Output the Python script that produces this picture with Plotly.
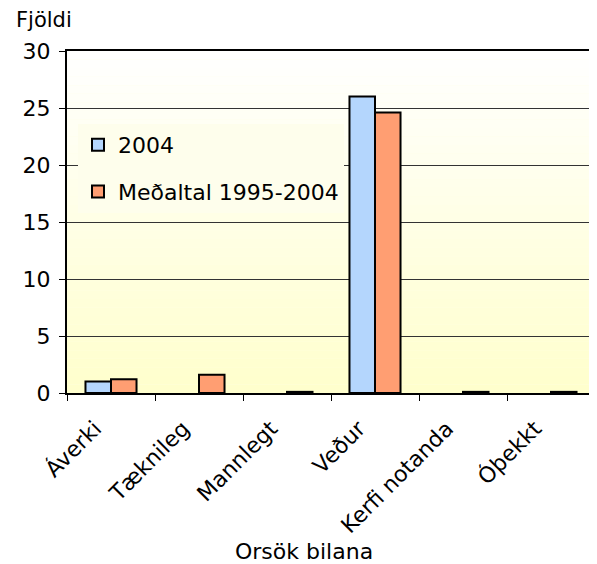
import plotly.graph_objects as go

CATEGORIES = ["Áverki", "Tæknileg", "Mannlegt", "Veður", "Kerfi notanda", "Óþekkt"]
VALUES_2004 = [1.0, 0.0, 0.0, 26.0, 0.0, 0.0]
VALUES_AVG = [1.2, 1.6, 0.1, 24.6, 0.1, 0.1]
SERIES_NAMES = ["2004", "Meðaltal 1995-2004"]
Y_TICKS = [0, 5, 10, 15, 20, 25, 30]

FONT = "DejaVu Sans, Verdana, sans-serif"
BLUE = "#B4D6FD"
ORANGE = "#FF9E72"

# the page body has an 8px margin, so the canvas is a bit smaller than the window
OFF = 8
W, H = 597 - OFF, 564 - OFF
L, R, T, B = 67 - OFF, 2, 51 - OFF, 171
PW, PH = W - L - R, H - T - B
Y0 = 51 + PH  # page y of the x axis


def px_x(x):
    return (x - 67) / PW


def px_y(y):
    return (Y0 - y) / PH


fig = go.Figure()

# zero bars get no outline (Excel draws nothing there)
fig.add_trace(go.Bar(
    x=CATEGORIES, y=VALUES_2004, name=SERIES_NAMES[0],
    marker=dict(color=BLUE, line=dict(color="black", width=[2 if v else 0 for v in VALUES_2004])),
    legendgroup="a",
))
fig.add_trace(go.Bar(
    x=CATEGORIES, y=VALUES_AVG, name=SERIES_NAMES[1],
    marker=dict(color=ORANGE, line=dict(color="black", width=[2 if v else 0 for v in VALUES_AVG])),
    legendgroup="b",
))

# vertical white -> pale yellow background, drawn as thin strips
n_strips = 40
for i in range(n_strips):
    t = (i + 0.5) / n_strips
    b = int(round(255 - (255 - 204) * t))
    fig.add_shape(
        type="rect", xref="x domain", yref="y domain",
        x0=0, x1=1, y0=1 - (i + 1) / n_strips, y1=1 - i / n_strips,
        fillcolor=f"rgb(255,255,{b})", line=dict(width=0), layer="below",
    )

fig.update_layout(
    width=W, height=H,
    barmode="group", bargap=0.42, bargroupgap=0,
    paper_bgcolor="white", plot_bgcolor="#FFFFE6",
    margin=dict(l=L, r=R, t=T, b=B, autoexpand=False),
    font=dict(family=FONT, size=22, color="black"),
    showlegend=True,
    legend=dict(
        x=px_x(78), y=px_y(124), xanchor="left", yanchor="top",
        bgcolor="#FEFEEC", borderwidth=0,
        font=dict(size=22, color="black"),
        tracegroupgap=15,
    ),
    annotations=[
        dict(text="Fjöldi", x=px_x(14), y=px_y(20), xref="paper", yref="paper",
             xanchor="left", yanchor="middle", showarrow=False, font=dict(size=21)),
        dict(text="Orsök bilana", x=px_x(304), y=px_y(551), xref="paper", yref="paper",
             xanchor="center", yanchor="middle", showarrow=False, font=dict(size=22)),
    ],
)

fig.update_xaxes(
    type="category", tickson="boundaries",
    ticks="outside", ticklen=6, tickcolor="black", tickwidth=1,
    tickangle=-45, ticklabelshift=-16, ticklabelstandoff=12,
    tickfont=dict(size=22, color="black"),
    showline=True, linecolor="black", linewidth=2, mirror=True,
    showgrid=False, zeroline=False, automargin=False,
)

fig.update_yaxes(
    range=[0, 30], tickvals=Y_TICKS, ticks="outside", ticklen=6, tickcolor="black",
    tickfont=dict(size=22, color="black"),
    showline=True, linecolor="black", linewidth=2, mirror=True,
    showgrid=True, gridcolor="#333333", gridwidth=1, zeroline=False,
    ticklabelstandoff=4, automargin=False,
)

fig.write_html("out.html")
